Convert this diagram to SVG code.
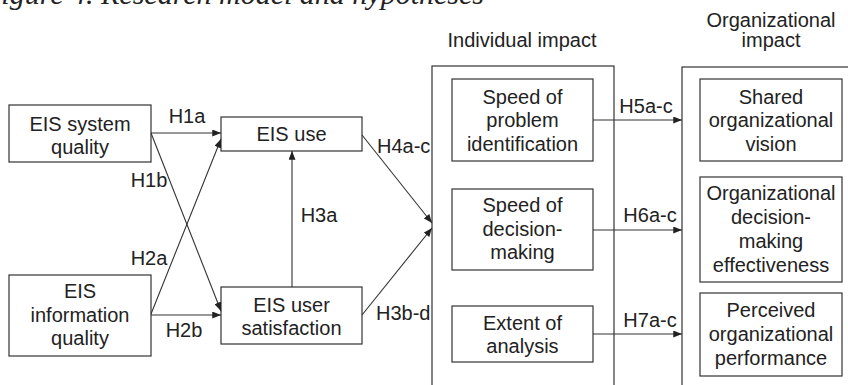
<svg xmlns="http://www.w3.org/2000/svg" width="848" height="385" viewBox="0 0 848 385">
<style>
.box{fill:#fff;stroke:#333;stroke-width:1.2}
.frame{fill:none;stroke:#333;stroke-width:1.2}
.t{font-family:"Liberation Sans",Arial,sans-serif;font-size:20px;fill:#222;text-anchor:middle}
.l{font-family:"Liberation Sans",Arial,sans-serif;font-size:20px;fill:#222}
.cap{font-family:"Liberation Serif","Times New Roman",serif;font-size:30px;font-style:italic;fill:#222}
.c{stroke:#333;stroke-width:1.1;fill:none;marker-end:url(#ah)}
</style>
<defs>
<marker id="ah" viewBox="0 0 10 8" refX="10" refY="4" markerWidth="9" markerHeight="7" markerUnits="userSpaceOnUse" orient="auto">
<path d="M0,0 L10,4 L0,8 z" fill="#222"/>
</marker>
</defs>
<rect width="848" height="385" fill="#fff"/>
<text class="cap" x="-17" y="4">Figure 4. Research model and hypotheses</text>

<g id="individual-impact">
<rect class="frame" x="432" y="66" width="182" height="340"/>
<text class="t" x="522" y="47">Individual impact</text>
</g>
<g id="organizational-impact">
<rect class="frame" x="682" y="67" width="190" height="340"/>
<text class="t" x="771" y="27">Organizational</text>
<text class="t" x="771" y="47">impact</text>
</g>

<g id="eis-system-quality">
<rect class="box" x="9" y="105" width="142" height="57"/>
<text class="t" x="80" y="131">EIS system</text>
<text class="t" x="80" y="154">quality</text>
</g>
<g id="eis-information-quality">
<rect class="box" x="9" y="275" width="142" height="81"/>
<text class="t" x="80" y="298">EIS</text>
<text class="t" x="80" y="322">information</text>
<text class="t" x="80" y="345">quality</text>
</g>
<g id="eis-use">
<rect class="box" x="221" y="117" width="141" height="34"/>
<text class="t" x="291.5" y="141">EIS use</text>
</g>
<g id="eis-user-satisfaction">
<rect class="box" x="221" y="287" width="141" height="57"/>
<text class="t" x="291.5" y="312">EIS user</text>
<text class="t" x="291.5" y="335">satisfaction</text>
</g>
<g id="speed-problem-identification">
<rect class="box" x="452" y="79" width="141" height="82"/>
<text class="t" x="522.5" y="104">Speed of</text>
<text class="t" x="522.5" y="127">problem</text>
<text class="t" x="522.5" y="151">identification</text>
</g>
<g id="speed-decision-making">
<rect class="box" x="452" y="189" width="141" height="81"/>
<text class="t" x="522.5" y="212">Speed of</text>
<text class="t" x="522.5" y="236">decision-</text>
<text class="t" x="522.5" y="259">making</text>
</g>
<g id="extent-of-analysis">
<rect class="box" x="452" y="306" width="141" height="56"/>
<text class="t" x="522.5" y="330">Extent of</text>
<text class="t" x="522.5" y="353">analysis</text>
</g>
<g id="shared-organizational-vision">
<rect class="box" x="700" y="79" width="142" height="82"/>
<text class="t" x="771" y="104">Shared</text>
<text class="t" x="771" y="127">organizational</text>
<text class="t" x="771" y="151">vision</text>
</g>
<g id="organizational-decision-making-effectiveness">
<rect class="box" x="700" y="177" width="142" height="105"/>
<text class="t" x="771" y="200">Organizational</text>
<text class="t" x="771" y="224">decision-</text>
<text class="t" x="771" y="248">making</text>
<text class="t" x="771" y="272">effectiveness</text>
</g>
<g id="perceived-organizational-performance">
<rect class="box" x="700" y="293" width="142" height="83"/>
<text class="t" x="771" y="317">Perceived</text>
<text class="t" x="771" y="341">organizational</text>
<text class="t" x="771" y="365">performance</text>
</g>

<g id="connectors">
<line class="c" x1="151" y1="133" x2="221" y2="133"/>
<line class="c" x1="151" y1="133" x2="221" y2="311"/>
<line class="c" x1="151" y1="314" x2="221" y2="139"/>
<line class="c" x1="151" y1="315" x2="221" y2="315"/>
<line class="c" x1="292" y1="287" x2="292" y2="151"/>
<line class="c" x1="362" y1="135" x2="432" y2="223"/>
<line class="c" x1="362" y1="315" x2="432" y2="228"/>
<line class="c" x1="593" y1="120" x2="682" y2="120"/>
<line class="c" x1="593" y1="230" x2="682" y2="230"/>
<line class="c" x1="593" y1="334" x2="682" y2="334"/>
<text class="t" x="187" y="123">H1a</text>
<text class="t" x="149" y="187">H1b</text>
<text class="t" x="149" y="265">H2a</text>
<text class="t" x="184" y="337">H2b</text>
<text class="t" x="319" y="222">H3a</text>
<text class="l" x="377" y="153">H4a-c</text>
<text class="l" x="376" y="320">H3b-d</text>
<text class="t" x="646" y="113">H5a-c</text>
<text class="t" x="650" y="222">H6a-c</text>
<text class="t" x="650" y="327">H7a-c</text>
</g>
</svg>
